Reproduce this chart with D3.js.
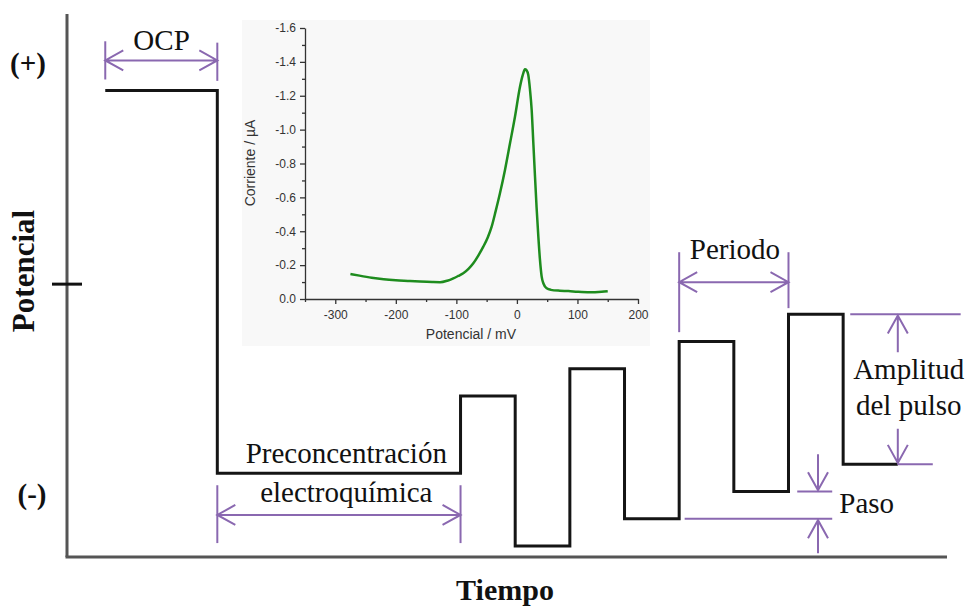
<!DOCTYPE html>
<html>
<head>
<meta charset="utf-8">
<script src="https://cdn.jsdelivr.net/npm/d3@7"></script>
<style>
  body { margin: 0; background: #fff; }
  svg { display: block; }
</style>
</head>
<body>
<svg id="chart"></svg>
<script>
// staircase waveform (time units = half period, potential units = one step)
const waveTime = [-6.5, -4.45, 0, 1, 2, 3, 4, 5, 6, 7, 8];
const waveLevel = [16.7, 2.67, 5.5, 0, 6.5, 1, 7.5, 2, 8.5, 3, 3];
const potentialTick = [9.6];

// inset voltammogram
const scanPotential = [-275, -260, -240, -220, -200, -180, -160, -140, -127, -115, -105, -97, -88.6, -80, -72, -64, -55.5, -48, -41.7, -35, -28, -19.7, -11.4, -3.2, 5.1, 9.5, 13.3, 16, 18.8, 21.5, 24.4, 27, 29.9, 32.5, 35.4, 38, 40.9, 44, 49.2, 56, 71, 85, 100, 120, 140, 150];
const scanCurrent = [-0.148, -0.138, -0.126, -0.117, -0.111, -0.107, -0.103, -0.100, -0.099, -0.108, -0.122, -0.136, -0.152, -0.178, -0.211, -0.255, -0.309, -0.365, -0.427, -0.52, -0.624, -0.762, -0.919, -1.076, -1.253, -1.32, -1.356, -1.350, -1.322, -1.24, -1.116, -0.93, -0.722, -0.54, -0.368, -0.235, -0.132, -0.09, -0.063, -0.054, -0.049, -0.047, -0.043, -0.040, -0.043, -0.046];
const currentTicks = [0, -0.2, -0.4, -0.6, -0.8, -1.0, -1.2, -1.4, -1.6];
const currentMinor = [-0.1, -0.3, -0.5, -0.7, -0.9, -1.1, -1.3, -1.5];
const potentialTicks = [-300, -200, -100, 0, 100, 200];
const potentialMinor = [-350, -250, -150, -50, 50, 150];

const width = 967, height = 609;
const purple = "#8a68b0";
const serif = "'Liberation Serif', 'Times New Roman', serif";
const sans = "'Liberation Sans', Arial, sans-serif";

const svg = d3.select("#chart").attr("width", width).attr("height", height);

// main scales
const x = d3.scaleLinear().domain([-7.2, 8.9]).range([67, 947]);
const y = d3.scaleLinear().domain([-0.4, 19.5]).range([557, 14]);

// inset background (drawn first, under everything)
svg.append("rect")
  .attr("x", 242).attr("y", 20).attr("width", 408).attr("height", 326)
  .attr("fill", "#f8f8f8");

// main axes
svg.append("line")
  .attr("x1", x(-7.2)).attr("x2", x(-7.2)).attr("y1", y(19.5)).attr("y2", y(-0.4))
  .attr("stroke", "#555").attr("stroke-width", 3);
svg.append("line")
  .attr("x1", x(-7.2) - 1.5).attr("x2", x(8.9)).attr("y1", y(-0.4)).attr("y2", y(-0.4))
  .attr("stroke", "#555").attr("stroke-width", 3);
svg.selectAll(".ptick").data(potentialTick).enter().append("line")
  .attr("x1", x(-7.2) - 15).attr("x2", x(-7.2) + 15)
  .attr("y1", d => y(d)).attr("y2", d => y(d))
  .attr("stroke", "#111").attr("stroke-width", 3);

// waveform
const wave = waveTime.map((t, i) => [t, waveLevel[i]]);
svg.append("path")
  .datum(wave)
  .attr("fill", "none")
  .attr("stroke", "#151515")
  .attr("stroke-width", 3)
  .attr("d", d3.line().x(d => x(d[0])).y(d => y(d[1])).curve(d3.curveStepAfter));

// annotation helpers
function hline(t1, t2, v) {
  svg.append("line")
    .attr("x1", x(t1)).attr("x2", x(t2)).attr("y1", y(v)).attr("y2", y(v))
    .attr("stroke", purple).attr("stroke-width", 2);
}
function vline(t, v1, v2) {
  svg.append("line")
    .attr("x1", x(t)).attr("x2", x(t)).attr("y1", y(v1)).attr("y2", y(v2))
    .attr("stroke", purple).attr("stroke-width", 2);
}
function harrow(t1, t2, v) {
  const x1 = x(t1), x2 = x(t2), yy = y(v);
  const p = d3.path();
  p.moveTo(x1, yy); p.lineTo(x2, yy);
  p.moveTo(x1 + 18, yy - 10); p.lineTo(x1, yy); p.lineTo(x1 + 18, yy + 10);
  p.moveTo(x2 - 18, yy - 10); p.lineTo(x2, yy); p.lineTo(x2 - 18, yy + 10);
  svg.append("path").attr("d", p.toString())
    .attr("fill", "none").attr("stroke", purple).attr("stroke-width", 2);
}
// single arrow pointing from v1 towards v2 (tip at v2)
function varrow(t, v1, v2) {
  const xx = x(t), y1 = y(v1), y2 = y(v2);
  const dir = y2 > y1 ? -1 : 1;
  const p = d3.path();
  p.moveTo(xx, y1); p.lineTo(xx, y2);
  p.moveTo(xx - 10, y2 + dir * 18); p.lineTo(xx, y2); p.lineTo(xx + 10, y2 + dir * 18);
  svg.append("path").attr("d", p.toString())
    .attr("fill", "none").attr("stroke", purple).attr("stroke-width", 2);
}
function label(px, py, txt, opts) {
  opts = opts || {};
  return svg.append("text")
    .attr("x", px).attr("y", py)
    .attr("text-anchor", opts.anchor || "middle")
    .style("font-family", serif)
    .style("font-size", (opts.size || 29) + "px")
    .style("font-weight", opts.bold ? "bold" : "normal")
    .attr("fill", "#111")
    .text(txt);
}

// OCP
vline(-6.5, 18.5, 17.1);
vline(-4.45, 18.45, 17.05);
harrow(-6.5, -4.45, 17.8);
label(x(-5.47), 50, "OCP");

// preconcentration
vline(-4.45, 2.23, 0.11);
vline(0, 2.23, 0.11);
harrow(-4.45, 0, 1.14);
label(x(-2.09), 463, "Preconcentración");
label(x(-2.09), 502, "electroquímica");

// period
vline(4, 10.77, 7.84);
vline(6, 10.77, 8.72);
harrow(4, 6, 9.67);
label(x(5.02), 259, "Periodo");

// pulse amplitude
hline(7.13, 9.15, 8.5);
hline(8, 8.64, 3);
varrow(8, 7.1, 8.45);
varrow(8, 4.3, 3.05);
label(x(8.2), 379, "Amplitud");
label(x(8.2), 415, "del pulso");

// step
hline(6.16, 6.8, 2);
hline(4.1, 6.8, 1);
varrow(6.54, 3.37, 2.05);
varrow(6.54, -0.26, 0.95);
label(x(6.93), 513, "Paso", { anchor: "start" });

// axis titles
label(28, 73, "(+)", { bold: true });
label(32, 504, "(-)", { bold: true });
label(505, 600, "Tiempo", { bold: true, size: 30 });
svg.append("text")
  .attr("transform", `translate(34,${271}) rotate(-90)`)
  .attr("text-anchor", "middle")
  .style("font-family", serif)
  .style("font-size", "31px")
  .style("font-weight", "bold")
  .attr("fill", "#111")
  .text("Potencial");

// ---- inset voltammogram ----
const ix = d3.scaleLinear().domain([-350, 200]).range([305, 638]);
const iy = d3.scaleLinear().domain([0, -1.6]).range([299, 28]);

const inset = svg.append("g");

inset.append("g")
  .attr("transform", `translate(0,${iy(0)})`)
  .call(d3.axisBottom(ix).tickValues(potentialMinor).tickSize(3).tickFormat(""))
  .call(g => g.select(".domain").remove());
inset.append("g")
  .attr("transform", `translate(${ix(-350)},0)`)
  .call(d3.axisLeft(iy).tickValues(currentMinor).tickSize(3).tickFormat(""))
  .call(g => g.select(".domain").remove());

inset.append("g")
  .attr("transform", `translate(0,${iy(0)})`)
  .call(d3.axisBottom(ix).tickValues(potentialTicks).tickSize(5).tickSizeOuter(0)
    .tickPadding(6).tickFormat(d => String(d)));
inset.append("g")
  .attr("transform", `translate(${ix(-350)},0)`)
  .call(d3.axisLeft(iy).tickValues(currentTicks).tickSize(5).tickSizeOuter(0)
    .tickPadding(4).tickFormat(d => d.toFixed(1)));

inset.selectAll(".domain, .tick line").attr("stroke", "#333").attr("stroke-width", 1.3);
inset.selectAll(".tick text")
  .style("font-family", sans)
  .style("font-size", "12px")
  .attr("fill", "#333");

inset.append("text")
  .attr("transform", `translate(255,${163}) rotate(-90)`)
  .attr("text-anchor", "middle")
  .style("font-family", sans)
  .style("font-size", "14px")
  .attr("fill", "#333")
  .text("Corriente / µA");
inset.append("text")
  .attr("x", 471).attr("y", 339)
  .attr("text-anchor", "middle")
  .style("font-family", sans)
  .style("font-size", "14px")
  .attr("fill", "#333")
  .text("Potencial / mV");

const scan = scanPotential.map((p, i) => [p, scanCurrent[i]]);
inset.append("path")
  .datum(scan)
  .attr("fill", "none")
  .attr("stroke", "#1e8c1e")
  .attr("stroke-width", 2.5)
  .attr("stroke-linejoin", "round")
  .attr("d", d3.line().x(d => ix(d[0])).y(d => iy(d[1])).curve(d3.curveMonotoneX));
</script>
</body>
</html>
